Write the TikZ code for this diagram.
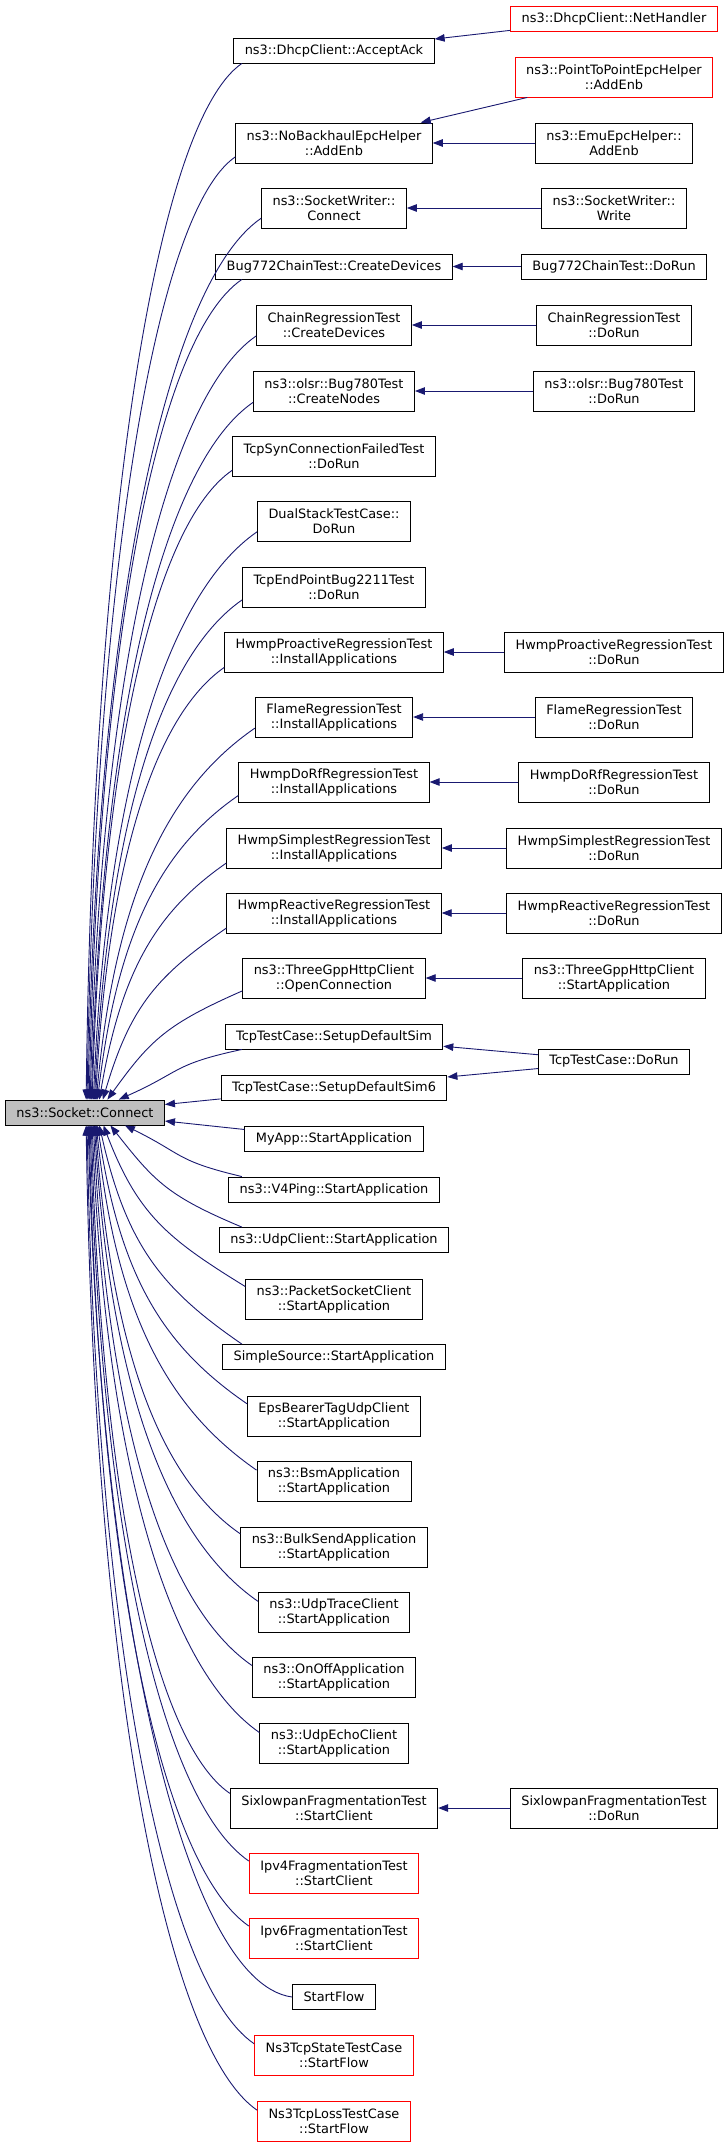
\documentclass[tikz,border=0pt]{standalone}
\usepackage{fontspec}
\setmainfont{DejaVu Sans}
\usetikzlibrary{arrows.meta}
\definecolor{edgeblue}{HTML}{191970}
\definecolor{focusgray}{HTML}{BFBFBF}
\tikzset{
	dtip/.tip={Triangle[length=10bp, width=7.5bp]},
	fn/.style={draw=black, fill=white, line width=0.9bp, inner xsep=11bp, inner ysep=0pt,
		minimum height=25bp, align=center, font=\fontsize{12.95}{15.05}\selectfont},
	two/.style={minimum height=40bp},
	undoc/.style={draw=red},
	focus/.style={fill=focusgray},
	call/.style={draw=edgeblue, line width=0.9bp, -dtip}
}
\begin{document}
\begin{tikzpicture}[x=1bp, y=-1bp]
	\useasboundingbox (0,0) rectangle (728,2147);
	
	% The function itself
	\node[fn, focus] (main) at (85,1112.5) {ns3::Socket::Connect};
	
	% Direct callers
	\node[fn] (acceptack) at (334,50.5) {ns3::DhcpClient::AcceptAck};
	\node[fn, two] (nobackhaul) at (334,143) {ns3::NoBackhaulEpcHelper\\::AddEnb};
	\node[fn, two] (swconnect) at (334,208) {ns3::SocketWriter::\\Connect};
	\node[fn] (bugcreate) at (334,266.5) {Bug772ChainTest::CreateDevices};
	\node[fn, two] (chaincreate) at (334,325) {ChainRegressionTest\\::CreateDevices};
	\node[fn, two] (olsrcreate) at (334,391) {ns3::olsr::Bug780Test\\::CreateNodes};
	\node[fn, two] (tcpsyn) at (334,456) {TcpSynConnectionFailedTest\\::DoRun};
	\node[fn, two] (dualstack) at (334,521) {DualStackTestCase::\\DoRun};
	\node[fn, two] (tcpendpoint) at (334,587) {TcpEndPointBug2211Test\\::DoRun};
	\node[fn, two] (proactive) at (334,652) {HwmpProactiveRegressionTest\\::InstallApplications};
	\node[fn, two] (flame) at (334,717) {FlameRegressionTest\\::InstallApplications};
	\node[fn, two] (dorf) at (334,782) {HwmpDoRfRegressionTest\\::InstallApplications};
	\node[fn, two] (simplest) at (334,848) {HwmpSimplestRegressionTest\\::InstallApplications};
	\node[fn, two] (reactive) at (334,913) {HwmpReactiveRegressionTest\\::InstallApplications};
	\node[fn, two] (threegpp) at (334,978) {ns3::ThreeGppHttpClient\\::OpenConnection};
	\node[fn] (setupsim) at (334,1036.5) {TcpTestCase::SetupDefaultSim};
	\node[fn] (setupsim6) at (334,1087.5) {TcpTestCase::SetupDefaultSim6};
	\node[fn] (myapp) at (334,1139) {MyApp::StartApplication};
	\node[fn] (v4ping) at (334,1189.5) {ns3::V4Ping::StartApplication};
	\node[fn] (udpclient) at (334,1240) {ns3::UdpClient::StartApplication};
	\node[fn, two] (packetsocket) at (334,1299) {ns3::PacketSocketClient\\::StartApplication};
	\node[fn] (simplesource) at (334,1357) {SimpleSource::StartApplication};
	\node[fn, two] (epsbearer) at (334,1416) {EpsBearerTagUdpClient\\::StartApplication};
	\node[fn, two] (bsm) at (334,1481) {ns3::BsmApplication\\::StartApplication};
	\node[fn, two] (bulksend) at (334,1547) {ns3::BulkSendApplication\\::StartApplication};
	\node[fn, two] (udptrace) at (334,1612) {ns3::UdpTraceClient\\::StartApplication};
	\node[fn, two] (onoff) at (334,1677) {ns3::OnOffApplication\\::StartApplication};
	\node[fn, two] (udpecho) at (334,1743) {ns3::UdpEchoClient\\::StartApplication};
	\node[fn, two] (sixlowpan) at (334,1808) {SixlowpanFragmentationTest\\::StartClient};
	\node[fn, two, undoc] (ipv4frag) at (334,1873) {Ipv4FragmentationTest\\::StartClient};
	\node[fn, two, undoc] (ipv6frag) at (334,1938) {Ipv6FragmentationTest\\::StartClient};
	\node[fn] (startflow) at (334,1997) {StartFlow};
	\node[fn, two, undoc] (tcpstate) at (334,2055) {Ns3TcpStateTestCase\\::StartFlow};
	\node[fn, two, undoc] (tcploss) at (334,2121) {Ns3TcpLossTestCase\\::StartFlow};
	
	% Second level callers
	\node[fn, undoc] (nethandler) at (614,18.5) {ns3::DhcpClient::NetHandler};
	\node[fn, two, undoc] (p2p) at (614,77) {ns3::PointToPointEpcHelper\\::AddEnb};
	\node[fn, two] (emu) at (614,143) {ns3::EmuEpcHelper::\\AddEnb};
	\node[fn, two] (swwrite) at (614,208) {ns3::SocketWriter::\\Write};
	\node[fn] (bugrun) at (614,266.5) {Bug772ChainTest::DoRun};
	\node[fn, two] (chainrun) at (614,325) {ChainRegressionTest\\::DoRun};
	\node[fn, two] (olsrrun) at (614,391) {ns3::olsr::Bug780Test\\::DoRun};
	\node[fn, two] (proactiverun) at (614,652) {HwmpProactiveRegressionTest\\::DoRun};
	\node[fn, two] (flamerun) at (614,717) {FlameRegressionTest\\::DoRun};
	\node[fn, two] (dorfrun) at (614,782) {HwmpDoRfRegressionTest\\::DoRun};
	\node[fn, two] (simplestrun) at (614,848) {HwmpSimplestRegressionTest\\::DoRun};
	\node[fn, two] (reactiverun) at (614,913) {HwmpReactiveRegressionTest\\::DoRun};
	\node[fn, two] (threegppstart) at (614,978) {ns3::ThreeGppHttpClient\\::StartApplication};
	\node[fn] (tcprun) at (614,1061.5) {TcpTestCase::DoRun};
	\node[fn, two] (sixrun) at (614,1808) {SixlowpanFragmentationTest\\::DoRun};
	
	% Straight calls
	\foreach \s/\t in {nethandler/acceptack, p2p/nobackhaul, emu/nobackhaul, swwrite/swconnect,
		bugrun/bugcreate, chainrun/chaincreate, olsrrun/olsrcreate, proactiverun/proactive,
		flamerun/flame, dorfrun/dorf, simplestrun/simplest, reactiverun/reactive,
		threegppstart/threegpp, tcprun/setupsim, tcprun/setupsim6, sixrun/sixlowpan,
		setupsim6/main, myapp/main}
		{\draw[call] (\s) -- (\t);}
	
	% Curved calls from above
	\foreach \n/\a/\px/\py/\qx/\qy/\e in {acceptack/188/-87/60/7/-570/85,
		nobackhaul/188/-81/56/8/-519/81, swconnect/188/-96/66/9/-485/77,
		bugcreate/188/-86/59/9/-452/72, chaincreate/188/-91/63/10/-420/68,
		olsrcreate/188/-90/62/11/-384/64, tcpsyn/188/-77/53/10/-347/61,
		dualstack/188/-90/62/13/-312/57, tcpendpoint/188/-82/57/14/-275/54,
		proactive/188/-70/49/13/-238/51, flame/188/-87/60/19/-205/49,
		dorf/188/-77/53/20/-167/46, simplest/188/-69/48/22/-130/42,
		reactive/188/-68/47/28/-95/36, threegpp/188/-75/33/43/-60/30,
		setupsim/188/-70/15/63/-28/21}
		{\draw[call] (\n.\a) .. controls +(\px,\py) and +(\qx,\qy) .. (main.\e);}
	
	% Curved calls from below
	\foreach \n/\a/\px/\py/\qx/\qy/\e in {v4ping/172/-67/-16/59/29/342,
		udpclient/172/-74/-31/44/56/333, packetsocket/172/-78/-48/34/89/325,
		simplesource/172/-80/-55/27/120/318, epsbearer/172/-83/-57/23/153/314,
		bsm/172/-88/-61/20/190/311, bulksend/172/-80/-55/16/225/309,
		udptrace/172/-91/-63/16/262/306, onoff/172/-88/-61/14/298/303,
		udpecho/172/-92/-64/13/334/299, sixlowpan/172/-76/-52/10/367/296,
		ipv4frag/172/-87/-60/10/405/292, ipv6frag/172/-88/-61/9/441/288,
		startflow/180/-110/-15/11/476/284, tcpstate/172/-92/-63/9/505/279,
		tcploss/172/-94/-65/8/542/275}
		{\draw[call] (\n.\a) .. controls +(\px,\py) and +(\qx,\qy) .. (main.\e);}
\end{tikzpicture}
\end{document}
